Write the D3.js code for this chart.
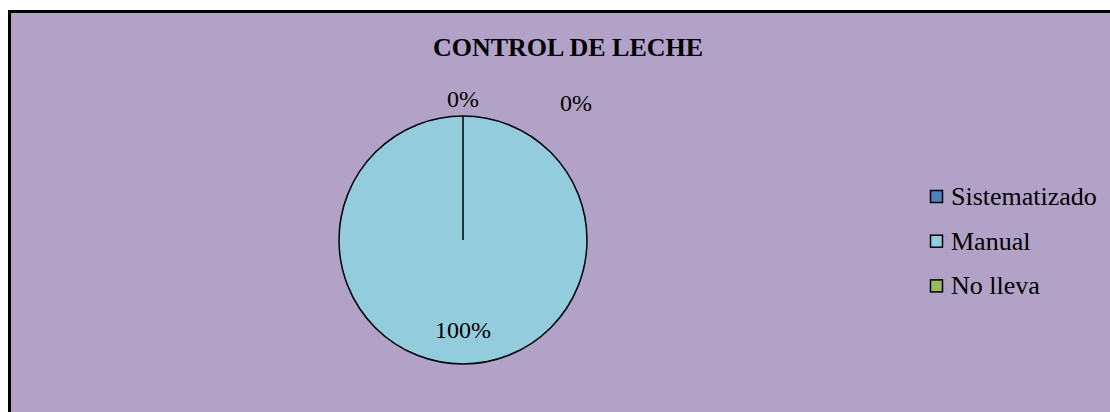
<!DOCTYPE html>
<html>
<head>
<meta charset="utf-8">
<script src="https://cdn.jsdelivr.net/npm/d3@7"></script>
<style>
  html, body { margin: 0; background: #fff; overflow: hidden; }
  svg { display: block; }
  text { font-family: "Liberation Serif", "Times New Roman", serif; fill: #000; }
</style>
</head>
<body>
<script>
(function () {

// data
var categories = ["Sistematizado", "Manual", "No lleva"];
var values = [0, 100, 0];
var colors = ["#4F81BD", "#93CDDD", "#9BBB59"];
var title = "CONTROL DE LECHE";

var width = 1110;
var height = 412;

var svg = d3.select("body")
  .append("svg")
    .attr("width", width)
    .attr("height", height);

// chart area background with border (bleeds off right/bottom)
svg.append("rect")
  .attr("x", 9.5)
  .attr("y", 11.5)
  .attr("width", width + 20)
  .attr("height", height + 20)
  .attr("fill", "#B3A2C8")
  .attr("stroke", "#000")
  .attr("stroke-width", 3);

svg.append("text")
  .attr("x", 568)
  .attr("y", 56)
  .attr("text-anchor", "middle")
  .style("font-size", "26px")
  .style("font-weight", "bold")
  .text(title);

var cx = 463, cy = 240, radius = 124;

var data = categories.map(function (c, i) {
  return { name: c, value: values[i], color: colors[i] };
});

var pie = d3.pie()
  .sort(null)
  .value(function (d) { return d.value; });

var arc = d3.arc().innerRadius(0).outerRadius(radius);
var insideArc = d3.arc().innerRadius(radius * 0.72).outerRadius(radius * 0.72);
var outsideArc = d3.arc().innerRadius(radius + 17).outerRadius(radius + 17);

var g = svg.append("g")
  .attr("transform", "translate(" + cx + "," + cy + ")");

var arcs = pie(data);

g.selectAll(".slice")
  .data(arcs)
  .enter()
  .append("path")
  .attr("class", "slice")
  .attr("d", arc)
  .attr("fill", function (d) { return d.data.color; })
  .attr("stroke", "#000")
  .attr("stroke-width", 1.5);

var total = d3.sum(values);
var placed = [];
arcs.forEach(function (d) {
  var pct = Math.round(d.data.value / total * 100);
  var p = pct >= 50 ? insideArc.centroid(d) : outsideArc.centroid(d);
  // nudge overlapping labels to the right, like Excel does
  placed.forEach(function (q) {
    if (Math.abs(q[0] - p[0]) < 40 && Math.abs(q[1] - p[1]) < 20) {
      p = [q[0] + 113, q[1] + 4];
    }
  });
  placed.push(p);
  g.append("text")
    .attr("x", p[0])
    .attr("y", p[1])
    .attr("dy", "0.35em")
    .attr("text-anchor", "middle")
    .style("font-size", "24px")
    .text(pct + "%");
});

// legend
var legend = svg.append("g")
  .attr("transform", "translate(930,197)");

var item = legend.selectAll(".item")
  .data(data)
  .enter()
  .append("g")
  .attr("class", "item")
  .attr("transform", function (d, i) { return "translate(0," + (i * 44.7) + ")"; });

item.append("rect")
  .attr("x", 0.5)
  .attr("y", -6.5)
  .attr("width", 12)
  .attr("height", 12)
  .attr("fill", function (d) { return d.color; })
  .attr("stroke", "#000")
  .attr("stroke-width", 1.5);

item.append("text")
  .attr("x", 21)
  .attr("y", 8)
  .style("font-size", "26px")
  .text(function (d) { return d.name; });

}());
</script>
</body>
</html>
